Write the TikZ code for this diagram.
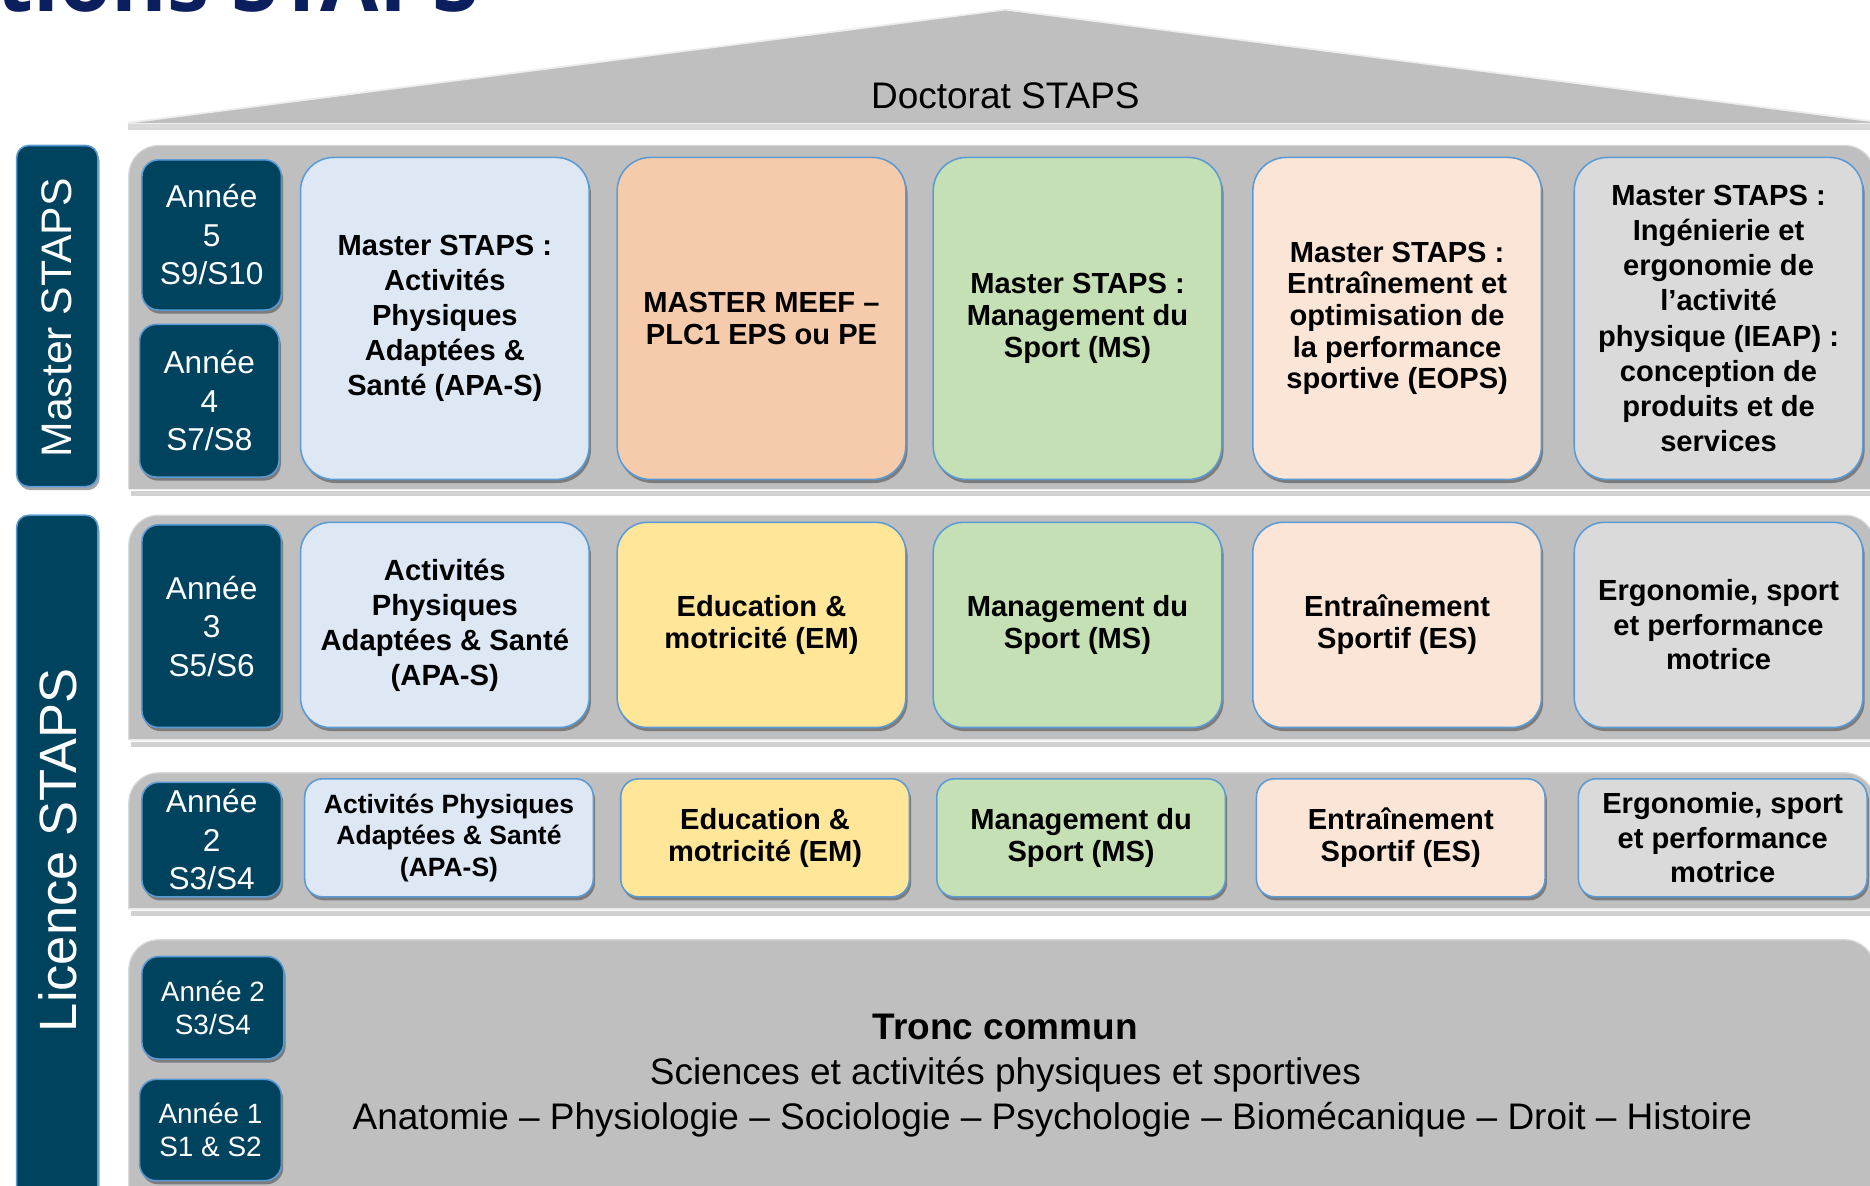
\documentclass[tikz,border=0pt]{standalone}
\usepackage{fontspec}
\setmainfont{Liberation Sans}
\newfontfamily\titlefont{Open Sans}
\usetikzlibrary{shadows}
\definecolor{panelgray}{HTML}{BFBFBF}
\definecolor{paneledge}{HTML}{D9D9D9}
\definecolor{darkteal}{HTML}{00435F}
\definecolor{edgeblue}{HTML}{5B9BD5}
\definecolor{apablue}{HTML}{DEE8F5}
\definecolor{meefpeach}{HTML}{F6CBAC}
\definecolor{msgreen}{HTML}{C5E0B4}
\definecolor{eslight}{HTML}{FBE5D6}
\definecolor{ergogray}{HTML}{DADADA}
\definecolor{emyellow}{HTML}{FFE699}
\definecolor{titlenavy}{HTML}{0B1F5E}
\tikzset{
  softshadow/.style={drop shadow={shadow xshift=1.5pt, shadow yshift=-3pt, opacity=0.35, fill=black}},
  progbox/.style={draw=edgeblue, line width=1.3pt, align=center, inner sep=0pt, text=black, softshadow},
  yearbox/.style={draw=edgeblue, line width=1.3pt, fill=darkteal, rounded corners=14pt, align=center, inner sep=0pt, text=white, softshadow},
  barbox/.style={draw=edgeblue, line width=1.3pt, fill=darkteal, rounded corners=10pt, inner sep=0pt, softshadow},
  bartext/.style={rotate=90, text=white, inner sep=0pt},
  yeartext/.style={font=\fontsize{26.5}{32.3}\selectfont},
  yeartextsmall/.style={font=\fontsize{23.4}{28}\selectfont},
  tctext/.style={font=\fontsize{31}{37}\selectfont, anchor=base, inner sep=0pt},
}
\newcommand{\panelshape}[4]{%
  \begin{scope}
    \clip (#1-5,#2-5) rectangle (#3+5,#4);
    \fill[panelgray, draw=paneledge, line width=1pt, rounded corners=25pt] (#1,#2) rectangle (#3,#4+40);
  \end{scope}
  \fill[black, opacity=0.18] (#1+2,#4+2) rectangle (#3,#4+6);
  \draw[white!93!black, line width=1.5pt] (#1,#4+0.5) -- (#3,#4+0.5);
}
\begin{document}
\begin{tikzpicture}[x=1pt, y=-1pt]
\useasboundingbox (0,0) rectangle (1568,994);
\clip (0,0) rectangle (1568,994);

% title (cut off)
\node[anchor=base east, inner sep=0pt, text=titlenavy, font=\titlefont\bfseries\fontsize{71}{80}\selectfont] (title) at (402,10) {tions STAPS};

% roof
\fill[black, opacity=0.15] (107,104) rectangle (1580,109);
\fill[panelgray] (107,103) -- (843,8) -- (1580,103) -- cycle;
\draw[white!93!black, line width=1.5pt] (107,103) -- (843,8) -- (1580,103);
\draw[white!93!black, line width=1.5pt] (107,103.5) -- (1580,103.5);
\node[font=\fontsize{31}{37}\selectfont, inner sep=0pt] (doct) at (843,80) {Doctorat STAPS};

% panels
\panelshape{108}{122}{1572}{410}
\panelshape{108}{432}{1572}{620}
\panelshape{108}{648}{1572}{762}
\panelshape{108}{788}{1572}{1020}

% left bars
\node[barbox, minimum width=68, minimum height=286] (mbar) at (48,265) {};
\node[bartext, font=\fontsize{35.8}{40}\selectfont] (mbartext) at (48,266.5) {Master STAPS};
\node[barbox, minimum width=68, minimum height=600] (lbar) at (48,732) {};
\node[bartext, font=\fontsize{44}{50}\selectfont] (lbartext) at (48,713) {Licence STAPS};

% year boxes
\node[yearbox, yeartext, minimum width=117, minimum height=126] (y5) at (177.5,197) {Année\\5\\S9/S10};
\node[yearbox, yeartext, minimum width=117, minimum height=128] (y4) at (175.5,336) {Année\\4\\S7/S8};
\node[yearbox, yeartext, minimum width=117, minimum height=170] (y3) at (177.5,525) {Année\\3\\S5/S6};
\node[yearbox, yeartext, minimum width=117, minimum height=96] (y2) at (177.5,704) {Année\\2\\S3/S4};
\node[yearbox, yeartextsmall, minimum width=119, minimum height=86] (y2b) at (178.5,845) {Année 2\\S3/S4};
\node[yearbox, yeartextsmall, minimum width=119, minimum height=85] (y1) at (176.5,947.5) {Année 1\\S1 \& S2};

% master row
\tikzset{mrow/.style={progbox, rounded corners=28pt, minimum width=242, minimum height=270}}
\node[mrow, fill=apablue, font=\bfseries\fontsize{24.4}{29.5}\selectfont] (m1) at (373,267) {Master STAPS :\\Activités\\Physiques\\Adaptées \&\\Santé (APA-S)};
\node[mrow, fill=meefpeach, font=\bfseries\fontsize{24.4}{27}\selectfont] (m2) at (638.5,267) {MASTER MEEF –\\PLC1 EPS ou PE};
\node[mrow, fill=msgreen, font=\bfseries\fontsize{24.4}{26.5}\selectfont] (m3) at (903.5,267) {Master STAPS :\\Management du\\Sport (MS)};
\node[mrow, fill=eslight, font=\bfseries\fontsize{24.4}{26.5}\selectfont] (m4) at (1171.5,267) {Master STAPS :\\Entraînement et\\optimisation de\\la performance\\sportive (EOPS)};
\node[mrow, fill=ergogray, font=\bfseries\fontsize{24.4}{29.5}\selectfont] (m5) at (1441,267) {Master STAPS :\\Ingénierie et\\ergonomie de\\l’activité\\physique (IEAP) :\\conception de\\produits et de\\services};

% L3 row
\tikzset{l3row/.style={progbox, rounded corners=25pt, minimum width=242, minimum height=172}}
\node[l3row, fill=apablue, font=\bfseries\fontsize{24.5}{29.3}\selectfont] (a1) at (373,524) {Activités\\Physiques\\Adaptées \& Santé\\(APA-S)};
\node[l3row, fill=emyellow, font=\bfseries\fontsize{24.4}{27}\selectfont] (a2) at (638.5,524) {Education \&\\motricité (EM)};
\node[l3row, fill=msgreen, font=\bfseries\fontsize{24.4}{26.5}\selectfont] (a3) at (903.5,524) {Management du\\Sport (MS)};
\node[l3row, fill=eslight, font=\bfseries\fontsize{24.4}{27}\selectfont] (a4) at (1171.5,524) {Entraînement\\Sportif (ES)};
\node[l3row, fill=ergogray, font=\bfseries\fontsize{24.4}{29}\selectfont] (a5) at (1441,524) {Ergonomie, sport\\et performance\\motrice};

% L2 row
\tikzset{l2row/.style={progbox, rounded corners=15pt, minimum width=242, minimum height=99}}
\node[l2row, fill=apablue, font=\bfseries\fontsize{22.2}{26.5}\selectfont] (b1) at (376.5,702.5) {Activités Physiques\\Adaptées \& Santé\\(APA-S)};
\node[l2row, fill=emyellow, font=\bfseries\fontsize{24.4}{26.5}\selectfont] (b2) at (641.5,702.5) {Education \&\\motricité (EM)};
\node[l2row, fill=msgreen, font=\bfseries\fontsize{24.4}{26.5}\selectfont] (b3) at (906.5,702.5) {Management du\\Sport (MS)};
\node[l2row, fill=eslight, font=\bfseries\fontsize{24.4}{26.5}\selectfont] (b4) at (1174.5,702.5) {Entraînement\\Sportif (ES)};
\node[l2row, fill=ergogray, font=\bfseries\fontsize{24.4}{29}\selectfont] (b5) at (1444.5,702.5) {Ergonomie, sport\\et performance\\motrice};

% tronc commun
\node[tctext] (tc1) at (843,872) {\bfseries Tronc commun};
\node[tctext] (tc2) at (843,909) {Sciences et activités physiques et sportives};
\node[tctext] (tc3) at (882.5,947) {Anatomie – Physiologie – Sociologie – Psychologie – Biomécanique – Droit – Histoire};
\end{tikzpicture}
\end{document}
